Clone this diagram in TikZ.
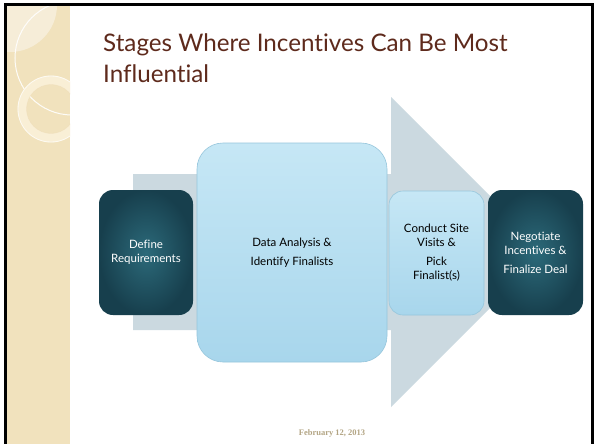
\documentclass[tikz,border=0pt]{standalone}
\usepackage{fontspec}
\setmainfont[Ligatures=NoCommon]{Lato}
\newfontfamily\datefont{Liberation Serif}
\definecolor{side}{HTML}{F1E2BD}
\definecolor{sidelight}{HTML}{F6EDD8}
\definecolor{ringcol}{HTML}{F9EFD6}
\definecolor{titlecol}{HTML}{5E2A1C}
\definecolor{arrowgray}{HTML}{CBD9E0}
\definecolor{tealin}{HTML}{2C6A7A}
\definecolor{tealout}{HTML}{173F4D}
\definecolor{lbtop}{HTML}{C6E7F5}
\definecolor{lbbot}{HTML}{A8D6EC}
\definecolor{lbdraw}{HTML}{96C6DC}
\definecolor{datecol}{HTML}{B3A584}
\tikzset{
  tealbox/.style={shading=radial, inner color=tealin, outer color=tealout,
    rounded corners=14pt, text=white, align=center, inner sep=0pt,
    font=\fontsize{11.5}{14}\selectfont},
  lightbox/.style={top color=lbtop, bottom color=lbbot, draw=lbdraw, line width=0.6pt,
    rounded corners=14pt, text=black, align=center, inner sep=0pt,
    font=\fontsize{11.5}{14}\selectfont},
  titletext/.style={anchor=base west, text=titlecol, inner sep=0pt,
    font=\fontsize{24.2}{28}\selectfont}
}
\begin{document}
\begin{tikzpicture}[x=1pt,y=-1pt]
\useasboundingbox (0,0) rectangle (594,444);
\fill[white] (0,0) rectangle (594,444);
% sidebar
\fill[side] (7,6) rectangle (70,444);
\begin{scope}
  \clip (7,6) rectangle (70,444);
  \fill[sidelight] (10,5) circle[radius=47pt];
  \draw[white, line width=1pt, opacity=0.9] (72,58) circle[radius=57pt];
  \draw[ringcol, line width=9pt] (51,109) circle[radius=29pt];
  \draw[white, line width=0.8pt, opacity=0.7] (51,109) circle[radius=33pt];
  \draw[side!85!brown, line width=0.4pt, opacity=0.4] (51,109) circle[radius=24.5pt];
\end{scope}
% frame
\draw[black, line width=3pt] (5.5,460) -- (5.5,4.5) -- (592,4.5) -- (592,460);
% title
\node[titletext] (title1) at (103,52) {Stages Where Incentives Can Be Most};
\node[titletext] (title2) at (103,82) {Influential};
% big arrow
\fill[arrowgray] (133,174) -- (391,174) -- (391,97) -- (546,252) -- (391,407)
  -- (391,330) -- (133,330) -- cycle;
% boxes
\node[tealbox, minimum width=94pt, minimum height=125pt] (def) at (146,252.5)
  {Define\\Requirements};
\node[lightbox, minimum width=190pt, minimum height=219pt, rounded corners=26pt] (data) at (292,252.5)
  {Data Analysis \&\\[5pt]Identify Finalists};
\node[lightbox, minimum width=95pt, minimum height=124pt] (site) at (436.5,253)
  {Conduct Site\\Visits \&\\[5pt]Pick\\Finalist(s)};
\node[tealbox, minimum width=95pt, minimum height=125pt] (neg) at (535.5,252.5)
  {Negotiate\\Incentives \&\\[5pt]Finalize Deal};
% date
\node[font=\datefont\bfseries\fontsize{8.5}{10}\selectfont, text=datecol] (date) at (332,433)
  {February 12, 2013};
\end{tikzpicture}
\end{document}
